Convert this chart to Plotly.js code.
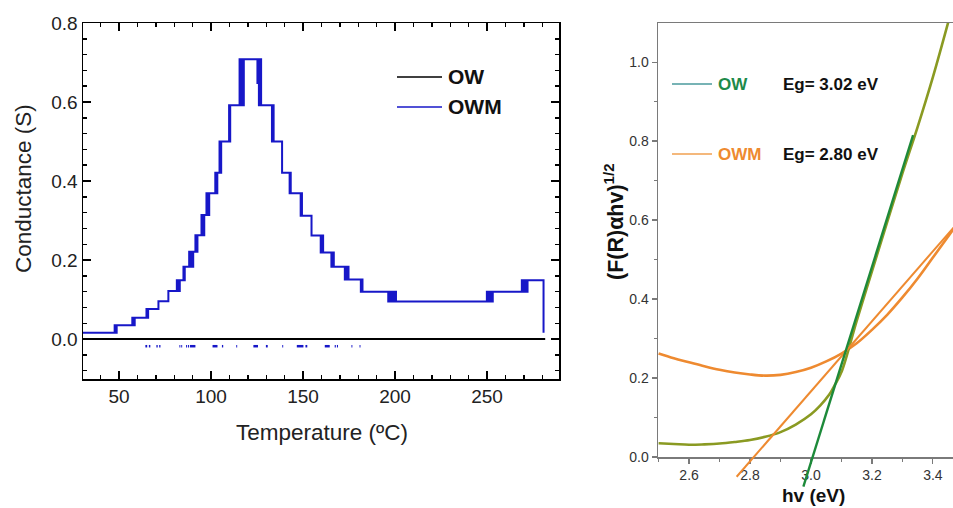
<!DOCTYPE html>
<html><head><meta charset="utf-8">
<script src="https://cdn.plot.ly/plotly-3.0.1.min.js"></script>
<style>html,body{margin:0;padding:0;background:#fff}#c{width:953px;height:508px}</style>
</head><body><div id="c"></div>
<script>
// ---------- Left panel: conductance vs temperature ----------
const owTemp = [30.4, 281.6];
const owCond = [0, 0];
const owmTemp = [30, 47.6, 47.9, 48.2, 48.5, 48.7,
 57.2, 57.5, 57.8, 58.1, 58.5,
 64.9, 65.3, 65.8,
 71.4,
 76.8,
 81.4, 81.8, 82.2, 82.6, 83.0,
 85.0, 85.35, 85.7,
 88.1, 88.5, 88.9, 89.3, 89.7, 90.0, 90.3,
 91.5, 92.05, 92.6,
 94.8, 95.2, 95.55, 95.9, 96.3,
 97.5, 97.9, 98.25, 98.6, 99.0,
 102.3, 102.85, 103.4,
 104.6, 105.05, 105.5,
 109.8, 110.1, 110.4,
 115.5, 115.8, 116.1, 116.4, 116.7, 117.0, 117.3, 117.55, 117.8,
 125.2, 125.4, 126.0, 126.3, 126.6, 126.9, 127.2, 127.6,
 133.1, 133.55, 134.0,
 138.6,
 142.7, 143.0, 143.3,
 148.7, 149.05, 149.4,
 154.6,
 159.6, 159.9, 160.25, 160.6, 160.9,
 165.4, 165.7, 166.05, 166.4, 166.7,
 172.7, 173.0, 173.35, 173.7, 174.05, 174.4, 174.7,
 181.4, 181.85, 182.3,
 196.3, 196.6, 196.9, 197.2, 197.5, 197.8, 198.1, 198.4, 198.7, 199.0, 199.3, 199.6, 199.9, 200.2, 200.5,
 249.9, 250.22, 250.54, 250.86, 251.18, 251.5, 251.82, 252.14, 252.46, 252.78, 253.1,
 268.9, 269.21, 269.52, 269.83, 270.14, 270.45, 270.76, 271.07, 271.38, 271.69, 272.0,
 280.7];
const owmCond = [0.016, 0.035, 0.016, 0.035, 0.016, 0.035,
 0.054, 0.035, 0.054, 0.035, 0.054,
 0.076, 0.054, 0.076,
 0.096,
 0.122,
 0.149, 0.122, 0.149, 0.122, 0.149,
 0.183, 0.149, 0.183,
 0.221, 0.183, 0.221, 0.183, 0.221, 0.183, 0.221,
 0.263, 0.221, 0.263,
 0.314, 0.263, 0.314, 0.263, 0.314,
 0.369, 0.314, 0.369, 0.314, 0.369,
 0.421, 0.369, 0.421,
 0.50, 0.421, 0.50,
 0.592, 0.50, 0.592,
 0.708, 0.592, 0.708, 0.592, 0.708, 0.592, 0.708, 0.592, 0.708,
 0.648, 0.708, 0.592, 0.708, 0.592, 0.708, 0.592, 0.592,
 0.50, 0.592, 0.50,
 0.421,
 0.369, 0.421, 0.369,
 0.312, 0.369, 0.312,
 0.262,
 0.219, 0.262, 0.219, 0.262, 0.219,
 0.183, 0.219, 0.183, 0.219, 0.183,
 0.151, 0.183, 0.151, 0.183, 0.151, 0.183, 0.151,
 0.12, 0.151, 0.12,
 0.095, 0.12, 0.095, 0.12, 0.095, 0.12, 0.095, 0.12, 0.095, 0.12, 0.095, 0.12, 0.095, 0.12, 0.095,
 0.12, 0.095, 0.12, 0.095, 0.12, 0.095, 0.12, 0.095, 0.12, 0.095, 0.12,
 0.149, 0.12, 0.149, 0.12, 0.149, 0.12, 0.149, 0.12, 0.149, 0.12, 0.149,
 0.016];
// scattered negative OWM readings (short dashes just below zero)
const owmLowTemp = [64.3,65.3,null, 66.2,67.0,null, 70.3,71.0,null, 71.8,72.5,null,
 82.8,83.3,null, 83.8,84.3,null, 86.4,86.9,null, 87.4,88.0,null, 88.5,91.5,null,
 100.8,103.5,null, 105.9,106.6,null, 113.7,114.2,null, 123.0,125.5,null, 129.8,130.8,null,
 138.7,139.2,null, 146.6,150.2,null, 151.3,152.3,null, 161.8,164.5,null, 167.2,167.8,null,
 168.4,169.0,null, 176.3,176.8,null, 180.7,181.2];
const owmLowCond = [-0.018,-0.018,null, -0.018,-0.018,null, -0.018,-0.018,null, -0.018,-0.018,null,
 -0.018,-0.018,null, -0.018,-0.018,null, -0.018,-0.018,null, -0.018,-0.018,null, -0.018,-0.018,null,
 -0.018,-0.018,null, -0.018,-0.018,null, -0.018,-0.018,null, -0.018,-0.018,null, -0.018,-0.018,null,
 -0.018,-0.018,null, -0.018,-0.018,null, -0.018,-0.018,null, -0.018,-0.018,null, -0.018,-0.018,null,
 -0.018,-0.018,null, -0.018,-0.018,null, -0.018,-0.018];

// ---------- Right panel: Tauc plot ----------
const owHv = [2.50,2.55,2.60,2.65,2.70,2.75,2.80,2.85,2.90,2.95,3.00,3.03,3.06,3.08,3.10,3.15,3.20,3.25,3.30,3.35,3.40,3.45];
const owF  = [0.035,0.033,0.031,0.032,0.034,0.038,0.043,0.051,0.063,0.082,0.108,0.13,0.158,0.185,0.215,0.345,0.47,0.595,0.718,0.836,0.962,1.10];
const owmHv = [2.50,2.55,2.60,2.65,2.70,2.75,2.80,2.85,2.90,2.95,3.00,3.05,3.10,3.15,3.20,3.25,3.30,3.35,3.40,3.47];
const owmF  = [0.262,0.25,0.24,0.23,0.221,0.214,0.209,0.206,0.208,0.215,0.226,0.242,0.262,0.288,0.322,0.36,0.404,0.452,0.505,0.58];
const owFitHv = [2.975, 3.335];
const owFitF  = [-0.075, 0.815];
const owmFitHv = [2.756, 3.47];
const owmFitF  = [-0.05, 0.583];

const legendLeft = ['OW', 'OWM'];
const legendRight = ['OW', 'OWM'];
const egLabels = ['Eg= 3.02 eV', 'Eg= 2.80 eV'];

// ---------- layout helpers (pixel -> paper) ----------
const W = 953, H = 508;
const px = v => v / W;
const py = v => 1 - v / H;

const leftX = [30.4, 289.1], leftY = [-0.101, 0.8];
const rightX = [2.498, 3.466], rightY = [0, 1.099];
const rTop = 23, rBot = 457, rExt = 495;
const k = (rightY[1] - rightY[0]) / (rBot - rTop);
const overlayY = [-(rExt - rBot) * k, rightY[1]];

const BLUE = '#1717c8';
const OLIVE = '#8a9a22';
const GREEN = '#1d8a3a';
const ORANGE = '#ee8a30';

const traces = [
  {x: owTemp, y: owCond, xaxis: 'x', yaxis: 'y', mode: 'lines', name: 'OW',
   line: {color: '#000', width: 2}, showlegend: false},
  {x: owmTemp, y: owmCond, xaxis: 'x', yaxis: 'y', mode: 'lines', name: 'OWM',
   line: {color: BLUE, width: 2, shape: 'hv'}, showlegend: false},
  {x: owmLowTemp, y: owmLowCond, xaxis: 'x', yaxis: 'y', mode: 'lines', name: 'OWM',
   line: {color: BLUE, width: 2.5}, connectgaps: false, showlegend: false},
  {x: owmHv, y: owmF, xaxis: 'x2', yaxis: 'y2', mode: 'lines', name: 'OWM',
   line: {color: ORANGE, width: 2.6, shape: 'spline', smoothing: 1}, showlegend: false},
  {x: owHv, y: owF, xaxis: 'x2', yaxis: 'y2', mode: 'lines', name: 'OW',
   line: {color: OLIVE, width: 2.6, shape: 'spline', smoothing: 1}, showlegend: false},
  {x: owmFitHv, y: owmFitF, xaxis: 'x3', yaxis: 'y3', mode: 'lines', name: 'OWM fit',
   line: {color: ORANGE, width: 2}, showlegend: false},
  {x: owFitHv, y: owFitF, xaxis: 'x3', yaxis: 'y3', mode: 'lines', name: 'OW fit',
   line: {color: GREEN, width: 2.4}, showlegend: false}
];

const FONT = 'Arial, Liberation Sans, sans-serif';
const leftTick = {family: FONT, size: 19, color: '#222'};
const rightTick = {family: FONT, size: 14, color: '#333'};

const layout = {
  width: W, height: H,
  margin: {l: 0, r: 0, t: 0, b: 0},
  paper_bgcolor: '#fff', plot_bgcolor: 'rgba(0,0,0,0)',
  showlegend: false,
  xaxis: {domain: [px(83), px(559)], range: leftX, anchor: 'y',
    showline: true, linecolor: '#000', linewidth: 1.5, mirror: 'allticks',
    ticks: 'inside', ticklen: 8, tickwidth: 1.5, tickcolor: '#000',
    tick0: 0, dtick: 50, tickfont: leftTick, showgrid: false, zeroline: false,
    minor: {ticks: 'inside', ticklen: 4, tickwidth: 1.5, tickcolor: '#000', dtick: 10, tick0: 0, showgrid: false}},
  yaxis: {domain: [py(379), py(23)], range: leftY, anchor: 'x',
    showline: true, linecolor: '#000', linewidth: 1.5, mirror: 'allticks',
    ticks: 'inside', ticklen: 8, tickwidth: 1.5, tickcolor: '#000',
    tick0: 0, dtick: 0.2, tickformat: '.1f', tickfont: leftTick, showgrid: false, zeroline: false,
    minor: {ticks: 'inside', ticklen: 4, tickwidth: 1.5, tickcolor: '#000', dtick: 0.04, tick0: 0, showgrid: false}},
  xaxis2: {domain: [px(658), 1], range: rightX, anchor: 'y2',
    showline: true, linecolor: '#7a7a7a', linewidth: 1.5, mirror: true,
    ticks: 'outside', ticklen: 5, tickwidth: 1.2, tickcolor: '#7a7a7a',
    tick0: 0, dtick: 0.2, tickformat: '.1f', tickfont: rightTick, showgrid: false, zeroline: false,
    minor: {ticks: 'outside', ticklen: 3, tickwidth: 1.2, tickcolor: '#7a7a7a', dtick: 0.1, tick0: 0, showgrid: false}},
  yaxis2: {domain: [py(rBot), py(rTop)], range: rightY, anchor: 'x2',
    showline: true, linecolor: '#7a7a7a', linewidth: 1.5, mirror: false,
    ticks: 'outside', ticklen: 5, tickwidth: 1.2, tickcolor: '#7a7a7a',
    tick0: 0, dtick: 0.2, tickformat: '.1f', tickfont: rightTick, showgrid: false, zeroline: false,
    minor: {ticks: 'outside', ticklen: 3, tickwidth: 1.2, tickcolor: '#7a7a7a', dtick: 0.1, tick0: 0, showgrid: false}},
  xaxis3: {domain: [px(658), 1], range: rightX, anchor: 'y3', visible: false},
  yaxis3: {domain: [py(rExt), py(rTop)], range: overlayY, anchor: 'x3', visible: false},
  annotations: [
    {text: 'Conductance (S)', xref: 'paper', yref: 'paper', x: px(23), y: py(189), textangle: -90,
     showarrow: false, xanchor: 'center', yanchor: 'middle',
     font: {family: FONT, size: 22.5, color: '#222'}},
    {text: 'Temperature (ºC)', xref: 'paper', yref: 'paper', x: px(322), y: py(432),
     showarrow: false, xanchor: 'center', yanchor: 'middle',
     font: {family: FONT, size: 22.5, color: '#222'}},
    {text: '(F(R)αhv)<sup>1/2</sup>', xref: 'paper', yref: 'paper', x: px(614), y: py(222), textangle: -90,
     showarrow: false, xanchor: 'center', yanchor: 'middle',
     font: {family: FONT, size: 21.5, color: '#111', weight: 'bold'}},
    {text: 'hv (eV)', xref: 'paper', yref: 'paper', x: px(813), y: py(495),
     showarrow: false, xanchor: 'center', yanchor: 'middle',
     font: {family: FONT, size: 19, color: '#111', weight: 'bold'}},
    {text: legendLeft[0], xref: 'paper', yref: 'paper', x: px(446), y: py(77),
     showarrow: false, xanchor: 'left', yanchor: 'middle',
     font: {family: FONT, size: 21, color: '#111', weight: 'bold'}},
    {text: legendLeft[1], xref: 'paper', yref: 'paper', x: px(446), y: py(107),
     showarrow: false, xanchor: 'left', yanchor: 'middle',
     font: {family: FONT, size: 21, color: '#111', weight: 'bold'}},
    {text: legendRight[0], xref: 'paper', yref: 'paper', x: px(716), y: py(84),
     showarrow: false, xanchor: 'left', yanchor: 'middle',
     font: {family: FONT, size: 17, color: '#1d8a4a', weight: 'bold'}},
    {text: egLabels[0], xref: 'paper', yref: 'paper', x: px(781), y: py(84),
     showarrow: false, xanchor: 'left', yanchor: 'middle',
     font: {family: FONT, size: 17, color: '#111', weight: 'bold'}},
    {text: legendRight[1], xref: 'paper', yref: 'paper', x: px(716), y: py(154),
     showarrow: false, xanchor: 'left', yanchor: 'middle',
     font: {family: FONT, size: 17, color: '#ee8a30', weight: 'bold'}},
    {text: egLabels[1], xref: 'paper', yref: 'paper', x: px(781), y: py(154),
     showarrow: false, xanchor: 'left', yanchor: 'middle',
     font: {family: FONT, size: 17, color: '#111', weight: 'bold'}}
  ],
  shapes: [
    {type: 'line', xref: 'paper', yref: 'paper', x0: px(397), x1: px(442), y0: py(77), y1: py(77), line: {color: '#000', width: 1.6}},
    {type: 'line', xref: 'paper', yref: 'paper', x0: px(397), x1: px(442), y0: py(107), y1: py(107), line: {color: BLUE, width: 1.6}},
    {type: 'line', xref: 'paper', yref: 'paper', x0: px(672), x1: px(712), y0: py(84), y1: py(84), line: {color: '#4a9a9c', width: 1.4}},
    {type: 'line', xref: 'paper', yref: 'paper', x0: px(672), x1: px(712), y0: py(154), y1: py(154), line: {color: '#f0a050', width: 1.4}}
  ]
};

Plotly.newPlot('c', traces, layout, {staticPlot: true, displayModeBar: false});
</script>
</body></html>
